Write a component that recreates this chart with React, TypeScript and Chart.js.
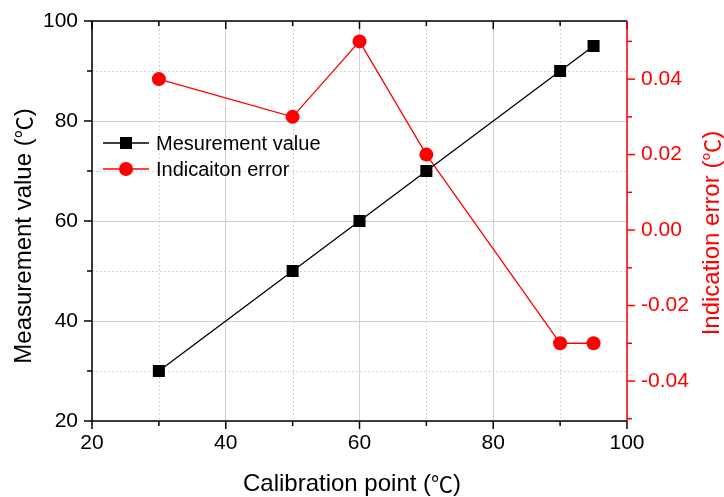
import React, { useEffect, useRef } from 'react';
import { Chart, registerables } from 'chart.js';

Chart.register(...registerables);

// ---- data ----
const calibrationPoints = [30, 50, 60, 70, 90, 95];
const measurementValues = [30, 50, 60, 70, 90, 95];
const indicationErrors = [0.04, 0.03, 0.05, 0.02, -0.03, -0.03];

const xMajorTicks = [20, 40, 60, 80, 100];
const xMinorTicks = [30, 50, 70, 90];
const yMajorTicks = [20, 40, 60, 80, 100];
const yMinorTicks = [30, 50, 70, 90];
const errMajorTicks = [-0.04, -0.02, 0.0, 0.02, 0.04];
const errMinorTicks = [-0.05, -0.03, -0.01, 0.01, 0.03, 0.05];

const seriesNames = ['Mesurement value', 'Indicaiton error'];
const xTitle = 'Calibration point';
const yTitle = 'Measurement value';
const y2Title = 'Indication error';
const unit = '℃';

const FONT = '"Liberation Sans", Arial, sans-serif';
const CJK = '"Noto Sans CJK SC", sans-serif';
const RED = '#ff0000';

function drawTitle(ctx: CanvasRenderingContext2D, label: string, size: number) {
  const segs = [
    { t: label + ' (', f: `${size}px ${FONT}` },
    { t: unit, f: `${size - 2}px ${CJK}` },
    { t: ')', f: `${size}px ${FONT}` },
  ];
  let total = 0;
  const widths = segs.map((s) => {
    ctx.font = s.f;
    const w = ctx.measureText(s.t).width;
    total += w;
    return w;
  });
  let x = -total / 2;
  ctx.textAlign = 'left';
  ctx.textBaseline = 'middle';
  segs.forEach((s, i) => {
    ctx.font = s.f;
    ctx.fillText(s.t, x, 0);
    x += widths[i];
  });
}

const decor = {
  id: 'decor',
  beforeDatasetsDraw(chart: any) {
    const { ctx, chartArea: a, scales } = chart;
    const xs = scales.x, ys = scales.y;
    ctx.save();
    ctx.strokeStyle = '#d4d4d4';
    ctx.lineWidth = 1;
    ctx.setLineDash([2, 2]);
    for (const v of xMinorTicks) {
      const px = Math.round(xs.getPixelForValue(v)) + 0.5;
      ctx.beginPath(); ctx.moveTo(px, a.top); ctx.lineTo(px, a.bottom); ctx.stroke();
    }
    for (const v of yMinorTicks) {
      const py = Math.round(ys.getPixelForValue(v)) + 0.5;
      ctx.beginPath(); ctx.moveTo(a.left, py); ctx.lineTo(a.right, py); ctx.stroke();
    }
    ctx.restore();
  },
  afterDatasetsDraw(chart: any) {
    const { ctx, chartArea: a, scales } = chart;
    const xs = scales.x, ys = scales.y, y2 = scales.y2;
    ctx.save();
    ctx.setLineDash([]);
    ctx.lineWidth = 1.5;
    const MAJ = 8, MIN = 5;
    ctx.strokeStyle = '#000';
    const seg = (x1: number, y1: number, x2: number, y2_: number) => {
      ctx.beginPath(); ctx.moveTo(x1, y1); ctx.lineTo(x2, y2_); ctx.stroke();
    };
    for (const v of xMajorTicks) {
      const px = xs.getPixelForValue(v);
      seg(px, a.bottom, px, a.bottom + MAJ);
      seg(px, a.top, px, a.top + MAJ);
    }
    for (const v of xMinorTicks) {
      const px = xs.getPixelForValue(v);
      seg(px, a.bottom, px, a.bottom + MIN);
      seg(px, a.top, px, a.top + MIN);
    }
    for (const v of yMajorTicks) {
      const py = ys.getPixelForValue(v);
      seg(a.left - MAJ, py, a.left, py);
    }
    for (const v of yMinorTicks) {
      const py = ys.getPixelForValue(v);
      seg(a.left - MIN, py, a.left, py);
    }
    seg(a.left, a.top, a.right, a.top);
    seg(a.left, a.bottom, a.right, a.bottom);
    seg(a.left, a.top, a.left, a.bottom);
    ctx.strokeStyle = RED;
    seg(a.right, a.top, a.right, a.bottom);
    for (const v of errMajorTicks) {
      const py = y2.getPixelForValue(v);
      seg(a.right, py, a.right + MAJ, py);
    }
    for (const v of errMinorTicks) {
      const py = y2.getPixelForValue(v);
      seg(a.right, py, a.right + MIN, py);
    }

    // titles
    ctx.fillStyle = '#000';
    ctx.save();
    ctx.translate(352, 484);
    drawTitle(ctx, xTitle, 24);
    ctx.restore();
    ctx.save();
    ctx.translate(24, 236);
    ctx.rotate(-Math.PI / 2);
    drawTitle(ctx, yTitle, 24);
    ctx.restore();
    ctx.save();
    ctx.fillStyle = RED;
    ctx.translate(712, 233);
    ctx.rotate(-Math.PI / 2);
    drawTitle(ctx, y2Title, 24);
    ctx.restore();

    // legend
    ctx.font = `20px ${FONT}`;
    ctx.textAlign = 'left';
    ctx.textBaseline = 'middle';
    const rows = [
      { color: '#000', y: 143, shape: 'rect' },
      { color: RED, y: 169, shape: 'circle' },
    ];
    rows.forEach((r, i) => {
      ctx.strokeStyle = r.color;
      ctx.fillStyle = r.color;
      ctx.lineWidth = 1.5;
      seg(103, r.y, 149, r.y);
      ctx.beginPath();
      if (r.shape === 'rect') ctx.rect(126 - 6, r.y - 6, 12, 12);
      else ctx.arc(126, r.y, 7, 0, Math.PI * 2);
      ctx.fill();
      ctx.fillStyle = '#000';
      ctx.fillText(seriesNames[i], 156, r.y + 1);
    });
    ctx.restore();
  },
};

export default function App() {
  const ref = useRef<HTMLCanvasElement>(null);
  useEffect(() => {
    if (!ref.current) return;
    const chart = new Chart(ref.current, {
      type: 'line',
      data: {
        datasets: [
          {
            label: seriesNames[0],
            data: calibrationPoints.map((x, i) => ({ x, y: measurementValues[i] })),
            yAxisID: 'y',
            borderColor: '#000',
            backgroundColor: '#000',
            borderWidth: 1.3,
            pointStyle: 'rect',
            pointRadius: 8.5,
            pointBorderWidth: 0,
          },
          {
            label: seriesNames[1],
            data: calibrationPoints.map((x, i) => ({ x, y: indicationErrors[i] })),
            yAxisID: 'y2',
            borderColor: RED,
            backgroundColor: RED,
            borderWidth: 1.3,
            pointStyle: 'circle',
            pointRadius: 7,
            pointBorderWidth: 0,
          },
        ],
      },
      options: {
        animation: false,
        responsive: false,
        layout: { padding: { top: 21, left: 0, right: 0, bottom: 0 } },
        plugins: { legend: { display: false }, tooltip: { enabled: false } },
        scales: {
          x: {
            type: 'linear',
            min: 20,
            max: 100,
            ticks: { stepSize: 20, color: '#000', font: { size: 21, family: FONT }, padding: 10 },
            grid: { color: '#cfcfcf', lineWidth: 1, drawTicks: false },
            border: { display: false },
            afterFit: (s: any) => { s.height = 76; },
          },
          y: {
            position: 'left',
            min: 20,
            max: 100,
            ticks: { stepSize: 20, color: '#000', font: { size: 21, family: FONT }, padding: 0 },
            grid: { color: '#cfcfcf', lineWidth: 1, drawTicks: true, tickLength: 14, tickColor: 'rgba(0,0,0,0)' },
            border: { display: false },
            afterFit: (s: any) => { s.width = 92; },
          },
          y2: {
            position: 'right',
            min: -0.0506,
            max: 0.0554,
            ticks: {
              stepSize: 0.02,
              includeBounds: false,
              color: RED,
              font: { size: 21, family: FONT },
              padding: 0,
              callback: (v: any) => Number(v).toFixed(2),
            },
            grid: { display: true, drawOnChartArea: false, drawTicks: true, tickLength: 14, tickColor: 'rgba(0,0,0,0)' },
            border: { display: false },
            afterFit: (s: any) => { s.width = 97; },
          },
        },
      },
      plugins: [decor],
    });
    return () => chart.destroy();
  }, []);
  return (
    <div style={{ position: 'absolute', left: 0, top: 0, width: 724, height: 497, background: '#fff' }}>
      <canvas ref={ref} width={724} height={497} />
    </div>
  );
}
